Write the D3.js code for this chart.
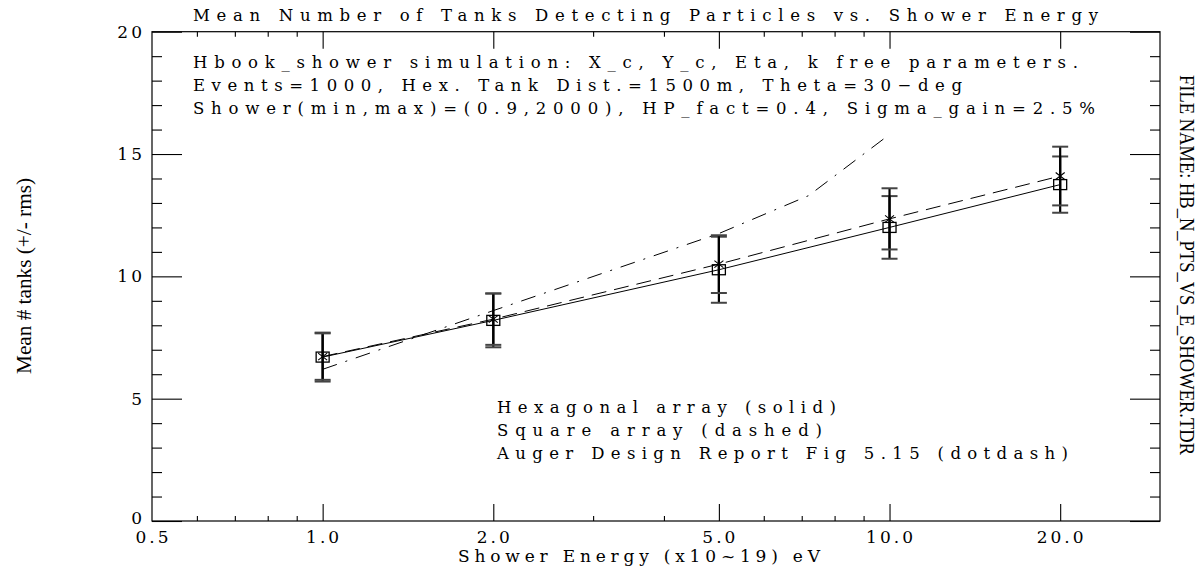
<!DOCTYPE html>
<html>
<head>
<meta charset="utf-8">
<script src="https://cdn.jsdelivr.net/npm/d3@7"></script>
<style>
  body { margin: 0; background: #fff; }
  svg { display: block; }
</style>
</head>
<body>
<div id="chart"></div>
<script>
// data
var energies = [1, 2, 5, 10, 20];
var hexMean = [6.7, 8.2, 10.27, 12.0, 13.75];
var hexRms = [1.0, 1.1, 1.35, 1.28, 1.15];
var sqMean = [6.72, 8.25, 10.5, 12.35, 14.1];
var sqRms = [0.95, 1.05, 1.18, 1.25, 1.2];
var augerE = [1, 2, 5, 7.2, 10];
var augerN = [6.2, 8.6, 11.75, 13.3, 15.8];

var xMajor = [1, 2, 5, 10, 20];
var xMinor = [0.6, 0.7, 0.8, 0.9, 3, 4, 6, 7, 8, 9];
var xLabels = [0.5, 1, 2, 5, 10, 20];
var yMajor = [0, 5, 10, 15, 20];
var yMinor = d3.range(1, 20).filter(function(d) { return d % 5 != 0; });

var title = "Mean Number of Tanks Detecting Particles vs. Shower Energy";
var notes = [
  "Hbook_shower simulation: X_c, Y_c, Eta, k free parameters.",
  "Events=1000, Hex. Tank Dist.=1500m, Theta=30\u2212deg",
  "Shower(min,max)=(0.9,2000), HP_fact=0.4, Sigma_gain=2.5%"
];
var legendLines = [
  "Hexagonal array (solid)",
  "Square array (dashed)",
  "Auger Design Report Fig 5.15 (dotdash)"
];

var width = 1204, height = 571;
var box = { left: 152, right: 1160, top: 31.7, bottom: 521 };
var font = "'DejaVu Serif', serif";
var narrow = "'Liberation Serif', 'Times New Roman', serif";

var svg = d3.select("#chart").append("svg")
  .attr("width", width)
  .attr("height", height);

var x = d3.scaleLog().domain([0.5, 30]).range([box.left, box.right]);
var y = d3.scaleLinear().domain([0, 20]).range([box.bottom, box.top]);

// frame
svg.append("rect")
  .attr("x", box.left).attr("y", box.top)
  .attr("width", box.right - box.left).attr("height", box.bottom - box.top)
  .attr("fill", "none").attr("stroke", "#000").attr("stroke-width", 1.2);

// ticks, all pointing inward
function ticks(axisFn, scale, values, size, pos) {
  var g = svg.append("g")
    .attr("transform", pos)
    .call(axisFn(scale).tickValues(values).tickSizeInner(-size).tickSizeOuter(0).tickFormat(""));
  g.select(".domain").remove();
  g.selectAll("line").attr("stroke", "#000").attr("stroke-width", 1.1);
  return g;
}
ticks(d3.axisBottom, x, xMajor, 17, "translate(0," + box.bottom + ")");
ticks(d3.axisBottom, x, xMinor, 5, "translate(0," + box.bottom + ")");
ticks(d3.axisTop, x, xMajor, 17, "translate(0," + box.top + ")");
ticks(d3.axisTop, x, xMinor, 5, "translate(0," + box.top + ")");
ticks(d3.axisLeft, y, yMajor, 30, "translate(" + box.left + ",0)");
ticks(d3.axisLeft, y, yMinor, 10, "translate(" + box.left + ",0)");
ticks(d3.axisRight, y, yMajor, 30, "translate(" + box.right + ",0)");
ticks(d3.axisRight, y, yMinor, 10, "translate(" + box.right + ",0)");

// tick labels
svg.append("g").selectAll("text")
  .data(xLabels).enter().append("text")
  .attr("x", function(d) { return x(d) + 1.5; })
  .attr("y", 537)
  .attr("dy", "0.35em")
  .attr("text-anchor", "middle")
  .attr("font-family", font).attr("font-size", 17).attr("letter-spacing", 3)
  .text(function(d) { return d.toFixed(1); });

svg.append("g").selectAll("text")
  .data(yMajor).enter().append("text")
  .attr("x", 145)
  .attr("y", function(d) { return y(d) - (d == 0 ? 3 : 0); })
  .attr("dy", "0.35em")
  .attr("text-anchor", "end")
  .attr("font-family", font).attr("font-size", 17).attr("letter-spacing", 3)
  .text(function(d) { return d; });

// axis titles
svg.append("text")
  .attr("x", 458).attr("y", 556).attr("dy", "0.35em")
  .attr("font-family", font).attr("font-size", 17)
  .attr("textLength", 362).attr("lengthAdjust", "spacing")
  .text("Shower Energy (x10~19) eV");

svg.append("text")
  .attr("transform", "translate(31,276) rotate(-90)")
  .attr("text-anchor", "middle")
  .attr("font-family", narrow).attr("font-size", 21)
  .attr("textLength", 196).attr("lengthAdjust", "spacingAndGlyphs")
  .text("Mean # tanks (+/- rms)");

svg.append("text")
  .attr("transform", "translate(1180,265) rotate(90)")
  .attr("text-anchor", "middle")
  .attr("font-family", narrow).attr("font-size", 20)
  .attr("textLength", 380).attr("lengthAdjust", "spacingAndGlyphs")
  .text("FILE NAME:  HB_N_PTS_VS_E_SHOWER.TDR");

// title and notes
svg.append("text")
  .attr("x", 193).attr("y", 15).attr("dy", "0.35em")
  .attr("font-family", font).attr("font-size", 16.5)
  .attr("textLength", 905).attr("lengthAdjust", "spacing")
  .text(title);

var noteLen = [885, 769, 902];
svg.append("g").selectAll("text")
  .data(notes).enter().append("text")
  .attr("x", 193)
  .attr("y", function(d, i) { return 62 + i * 23.3; })
  .attr("dy", "0.35em")
  .attr("font-family", font).attr("font-size", 16.5)
  .attr("textLength", function(d, i) { return noteLen[i]; })
  .attr("lengthAdjust", "spacing")
  .text(function(d) { return d; });

var legendLen = [339, 325, 571];
svg.append("g").selectAll("text")
  .data(legendLines).enter().append("text")
  .attr("x", 497)
  .attr("y", function(d, i) { return 407 + i * 23; })
  .attr("dy", "0.35em")
  .attr("font-family", font).attr("font-size", 16.5)
  .attr("textLength", function(d, i) { return legendLen[i]; })
  .attr("lengthAdjust", "spacing")
  .text(function(d) { return d; });

// curves
var line = d3.line()
  .x(function(d) { return x(d[0]); })
  .y(function(d) { return y(d[1]); });

var hexPts = d3.zip(energies, hexMean);
var sqPts = d3.zip(energies, sqMean);
var augerPts = d3.zip(augerE, augerN);

svg.append("path").datum(hexPts)
  .attr("d", line).attr("fill", "none").attr("stroke", "#000").attr("stroke-width", 1);
svg.append("path").datum(sqPts)
  .attr("d", line).attr("fill", "none").attr("stroke", "#000").attr("stroke-width", 1)
  .attr("stroke-dasharray", "15,8");
svg.append("path").datum(augerPts)
  .attr("d", line).attr("fill", "none").attr("stroke", "#000").attr("stroke-width", 1)
  .attr("stroke-dasharray", "15,9,2,9");

// error bars
function errorBars(mean, rms) {
  var g = svg.append("g");
  energies.forEach(function(e, i) {
    var cx = x(e), lo = y(mean[i] - rms[i]), hi = y(mean[i] + rms[i]);
    g.append("line").attr("x1", cx).attr("x2", cx).attr("y1", lo).attr("y2", hi)
      .attr("stroke", "#000").attr("stroke-width", 2.2);
    [lo, hi].forEach(function(v) {
      g.append("line").attr("x1", cx - 8).attr("x2", cx + 8).attr("y1", v).attr("y2", v)
        .attr("stroke", "#444").attr("stroke-width", 2);
    });
  });
}
errorBars(hexMean, hexRms);
errorBars(sqMean, sqRms);

// markers: open squares for hexagonal array, crosses for square array
svg.append("g").selectAll("rect")
  .data(hexPts).enter().append("rect")
  .attr("x", function(d) { return x(d[0]) - 6.5; })
  .attr("y", function(d) { return y(d[1]) - 5; })
  .attr("width", 13).attr("height", 10)
  .attr("fill", "none").attr("stroke", "#000").attr("stroke-width", 1.3);

var crosses = svg.append("g");
sqPts.forEach(function(d) {
  var cx = x(d[0]), cy = y(d[1]);
  crosses.append("path")
    .attr("d", "M" + (cx - 4.5) + "," + (cy - 3.5) + "L" + (cx + 4.5) + "," + (cy + 3.5) +
               "M" + (cx - 4.5) + "," + (cy + 3.5) + "L" + (cx + 4.5) + "," + (cy - 3.5))
    .attr("stroke", "#000").attr("stroke-width", 1.1);
});
</script>
</body>
</html>
